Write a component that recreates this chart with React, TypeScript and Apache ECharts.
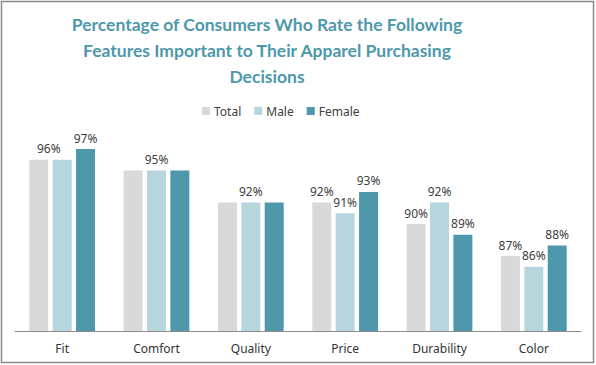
import React, { useEffect, useRef } from "react";
import * as echarts from "echarts";

const categories = ["Fit", "Comfort", "Quality", "Price", "Durability", "Color"];
const totalValues = [96, 95, 92, 92, 90, 87];
const maleValues = [96, 95, 92, 91, 92, 86];
const femaleValues = [97, 95, 92, 93, 89, 88];

const titleText =
  "Percentage of Consumers Who Rate the Following\nFeatures Important to Their Apparel Purchasing\nDecisions";

export default function App() {
  const ref = useRef<HTMLDivElement>(null);
  useEffect(() => {
    if (!ref.current) return;
    const chart = echarts.init(ref.current, undefined, { renderer: "svg" });
    const labelBase = {
      show: true,
      position: "top" as const,
      distance: 5,
      formatter: "{c}%",
      color: "#404040",
      fontSize: 12,
      fontFamily: "Noto Sans",
    };
    const mk = (vals: number[], hideIdx: number[], offsets: Record<number, number[]> = {}) =>
      vals.map((v, i) => {
        if (hideIdx.includes(i)) return { value: v, label: { show: false } };
        if (offsets[i]) return { value: v, label: { offset: offsets[i] } };
        return v;
      });
    chart.setOption({
      animation: false,
      backgroundColor: "#ffffff",
      title: {
        text: titleText,
        left: 262,
        top: 6,
        textAlign: "center",
        textStyle: {
          color: "#4E98AB",
          fontFamily: "Lato",
          fontWeight: "bold",
          fontSize: 17.5,
          lineHeight: 26,
        },
      },
      legend: {
        left: 197,
        top: 100,
        itemWidth: 8,
        itemHeight: 8,
        itemGap: 13,
        icon: "rect",
        textStyle: { color: "#404040", fontSize: 12, fontFamily: "Noto Sans", padding: [0, 0, 0, -1] },
        data: ["Total", "Male", "Female"],
      },
      grid: { left: 15, right: 15, top: 117, bottom: 34, containLabel: false },
      xAxis: {
        type: "category",
        data: categories,
        axisLine: { lineStyle: { color: "#8c8c8c", width: 1 } },
        axisTick: { show: false },
        axisLabel: { color: "#333333", fontSize: 12, fontFamily: "Noto Sans", margin: 11 },
      },
      yAxis: {
        type: "value",
        min: 80,
        max: 100,
        show: false,
        splitLine: { show: false },
      },
      series: [
        {
          name: "Total",
          type: "bar",
          barWidth: 19,
          barGap: "23%",
          itemStyle: { color: "#D9D9D9" },
          label: labelBase,
          data: mk(totalValues, [1, 2], { 0: [10, 0] }),
        },
        {
          name: "Male",
          type: "bar",
          barWidth: 19,
          barGap: "23%",
          itemStyle: { color: "#B7D5DD" },
          label: labelBase,
          data: mk(maleValues, [0]),
        },
        {
          name: "Female",
          type: "bar",
          barWidth: 19,
          barGap: "23%",
          itemStyle: { color: "#4F97AA" },
          label: labelBase,
          data: mk(femaleValues, [1, 2]),
        },
      ],
      graphic: [
        {
          type: "rect",
          shape: { x: 1.5, y: 1.5, width: 592, height: 361 },
          style: { fill: "none", stroke: "#8a8a8a", lineWidth: 1.5 },
          silent: true,
        },
      ],
    });
    return () => chart.dispose();
  }, []);
  return (
    <div
      ref={ref}
      style={{ position: "absolute", left: 0, top: 0, width: 596, height: 365 }}
    />
  );
}
